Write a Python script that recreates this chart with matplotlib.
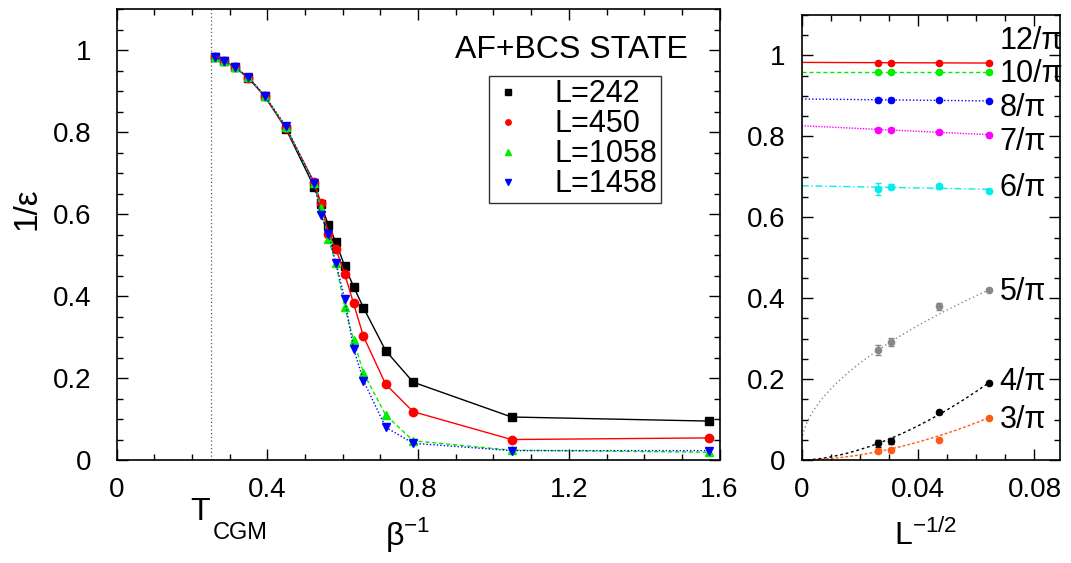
import numpy as np
import matplotlib
matplotlib.use('Agg')
import matplotlib.pyplot as plt
from matplotlib.ticker import MultipleLocator

plt.rcParams['font.family'] = ['Liberation Sans', 'DejaVu Sans']

# left panel: 1/eps against inverse beta, one series per lattice size
beta_inv = [0.261, 0.285, 0.314, 0.350, 0.393, 0.449, 0.524, 0.542, 0.562,
            0.582, 0.605, 0.629, 0.655, 0.714, 0.787, 1.048, 1.573]
eps_242 = [0.984, 0.974, 0.959, 0.932, 0.888, 0.809, 0.667, 0.626, 0.573,
           0.532, 0.474, 0.423, 0.372, 0.267, 0.190, 0.105, 0.095]
eps_450 = [0.984, 0.974, 0.959, 0.933, 0.889, 0.811, 0.679, 0.628, 0.552,
           0.515, 0.455, 0.382, 0.302, 0.185, 0.118, 0.050, 0.054]
eps_1058 = [0.984, 0.974, 0.959, 0.934, 0.889, 0.813, 0.675, 0.616, 0.540,
            0.480, 0.374, 0.293, 0.213, 0.110, 0.047, 0.024, 0.019]
eps_1458 = [0.984, 0.974, 0.959, 0.934, 0.889, 0.815, 0.675, 0.598, 0.551,
            0.482, 0.394, 0.272, 0.194, 0.080, 0.041, 0.023, 0.023]
t_cgm = 0.25

# right panel: finite size scaling at fixed beta
L_sizes = np.array([1458, 1058, 450, 242])
beta_labels = ['12/π', '10/π', '8/π', '7/π', '6/π', '5/π', '4/π', '3/π']
fss_12 = [0.982, 0.982, 0.982, 0.981]
fss_10 = [0.959, 0.959, 0.959, 0.959]
fss_8 = [0.890, 0.890, 0.890, 0.887]
fss_7 = [0.8165, 0.8165, 0.810, 0.804]
fss_6 = [0.670, 0.676, 0.677, 0.666]
fss_5 = [0.272, 0.291, 0.380, 0.421]
fss_4 = [0.041, 0.047, 0.118, 0.191]
fss_3 = [0.023, 0.024, 0.050, 0.1045]
err_12 = [0.003, 0.003, 0.003, 0.002]
err_10 = [0.003, 0.003, 0.003, 0.002]
err_8 = [0.004, 0.004, 0.003, 0.002]
err_7 = [0.004, 0.004, 0.003, 0.002]
err_6 = [0.015, 0.006, 0.006, 0.003]
err_5 = [0.012, 0.010, 0.009, 0.004]
err_4 = [0.008, 0.008, 0.004, 0.003]
err_3 = [0.005, 0.005, 0.004, 0.003]
# power law fits c + a*x^b for the three lowest betas
pow_c = [0.04, 0.0, 0.0]
pow_a = [1.735, 21.07, 14.6]
pow_b = [0.553, 1.714, 1.8]

x_fss = L_sizes ** -0.5

fig = plt.figure(figsize=(10.71, 5.63), dpi=100)
ax1 = fig.add_axes([0.1088, 0.1829, 0.5631, 0.8006])
ax2 = fig.add_axes([0.7486, 0.1829, 0.2412, 0.7905])

# ---- left panel
series = [
    (eps_242, 'L=242', 'k', 's', '-'),
    (eps_450, 'L=450', '#ff0000', 'o', '-'),
    (eps_1058, 'L=1058', '#00ee00', '^', (0, (3, 2))),
    (eps_1458, 'L=1458', '#0000ff', 'v', (0, (1, 1.5))),
]
handles = []
for y, lab, col, mk, ls in series:
    ax1.plot(beta_inv, y, color=col, lw=1.0, ls=ls)
    h, = ax1.plot(beta_inv, y, color=col, marker=mk, ms=6, ls='none', label=lab)
    handles.append(h)

ax1.axvline(t_cgm, color='0.35', ls=(0, (1, 2)), lw=0.9)

ax1.set_xlim(0, 1.6)
ax1.set_ylim(0, 1.1)
ax1.xaxis.set_minor_locator(MultipleLocator(0.1))
ax1.yaxis.set_minor_locator(MultipleLocator(0.05))
ax1.set_xticks([0, 0.4, 0.8, 1.2, 1.6])
ax1.set_xticklabels(['0', '0.4', '0.8', '1.2', '1.6'])
ax1.set_yticks([0, 0.2, 0.4, 0.6, 0.8, 1.0])
ax1.set_yticklabels(['0', '0.2', '0.4', '0.6', '0.8', '1'])
ax1.tick_params(axis='y', pad=18)

leg = ax1.legend(handles=handles, loc='upper left', bbox_to_anchor=(0.618, 0.853),
                 fontsize=22, frameon=True, fancybox=False, edgecolor='k',
                 handlelength=1.0, handletextpad=1.0, labelspacing=0.0,
                 borderpad=0.12, borderaxespad=0, markerscale=0.65)
leg.get_frame().set_linewidth(1.0)
ax1.text(0.7535, 0.91, 'AF+BCS STATE', transform=ax1.transAxes, fontsize=23,
         ha='center', va='center')

# ---- right panel
fss = [fss_12, fss_10, fss_8, fss_7, fss_6, fss_5, fss_4, fss_3]
errs = [err_12, err_10, err_8, err_7, err_6, err_5, err_4, err_3]
colors = ['#ff0000', '#00ee00', '#0000ff', '#ff00ff', '#00eeee', '#888888', 'k', '#ff5a14']
styles = ['-', (0, (3, 2)), (0, (1, 1.5)), (0, (1, 1)), (0, (5, 2, 1, 2)),
          (0, (1, 2)), (0, (2, 2)), (0, (2, 1.5))]
label_y = [1.035, 0.953, 0.869, 0.785, 0.672, 0.415, 0.193, 0.10]

xx = np.linspace(0, x_fss.max(), 200)
for i, (y, e, col, ls) in enumerate(zip(fss, errs, colors, styles)):
    if i < 5:
        slope, icpt = np.polyfit(x_fss, y, 1)
        fit = icpt + slope * xx
    else:
        j = i - 5
        fit = pow_c[j] + pow_a[j] * xx ** pow_b[j]
    ax2.plot(xx, fit, color=col, ls=ls, lw=1.0)
    ax2.errorbar(x_fss, y, yerr=e, fmt='o', color=col, ms=4.5, capsize=2,
                 elinewidth=1, capthick=1)
    ax2.text(0.068, label_y[i], beta_labels[i], fontsize=22, ha='left', va='center')

ax2.set_xlim(0, 0.0888)
ax2.set_ylim(0, 1.1)
ax2.set_xticks([0, 0.04, 0.08])
ax2.set_xticklabels(['0', '0.04', '0.08'])
ax2.xaxis.set_minor_locator(MultipleLocator(0.01))
ax2.set_yticks([0, 0.2, 0.4, 0.6, 0.8, 1.0])
ax2.set_yticklabels(['0', '0.2', '0.4', '0.6', '0.8', '1'])
ax2.yaxis.set_minor_locator(MultipleLocator(0.05))
ax2.tick_params(axis='y', pad=12)

for ax in (ax1, ax2):
    ax.tick_params(which='both', direction='in', top=True, right=True,
                   labelsize=20, width=1.0)
    ax.tick_params(axis='x', pad=12)
    ax.tick_params(which='major', length=8)
    ax.tick_params(which='minor', length=4.5)
    for sp in ax.spines.values():
        sp.set_linewidth(1.2)

# axis titles
fig.text(0.025, 0.63, '1/ε', rotation=90, fontsize=24, ha='center', va='center')
fig.text(0.178, 0.0764, 'T', fontsize=23, ha='left', va='baseline')
fig.text(0.199, 0.043, 'CGM', fontsize=17, ha='left', va='baseline')
fig.text(0.381, 0.032, 'β$^{\\mathregular{-1}}$', fontsize=23, ha='center', va='baseline')
fig.text(0.864, 0.032, 'L$^{\\mathregular{-1/2}}$', fontsize=23, ha='center', va='baseline')

fig.savefig('out.png', dpi=100)
